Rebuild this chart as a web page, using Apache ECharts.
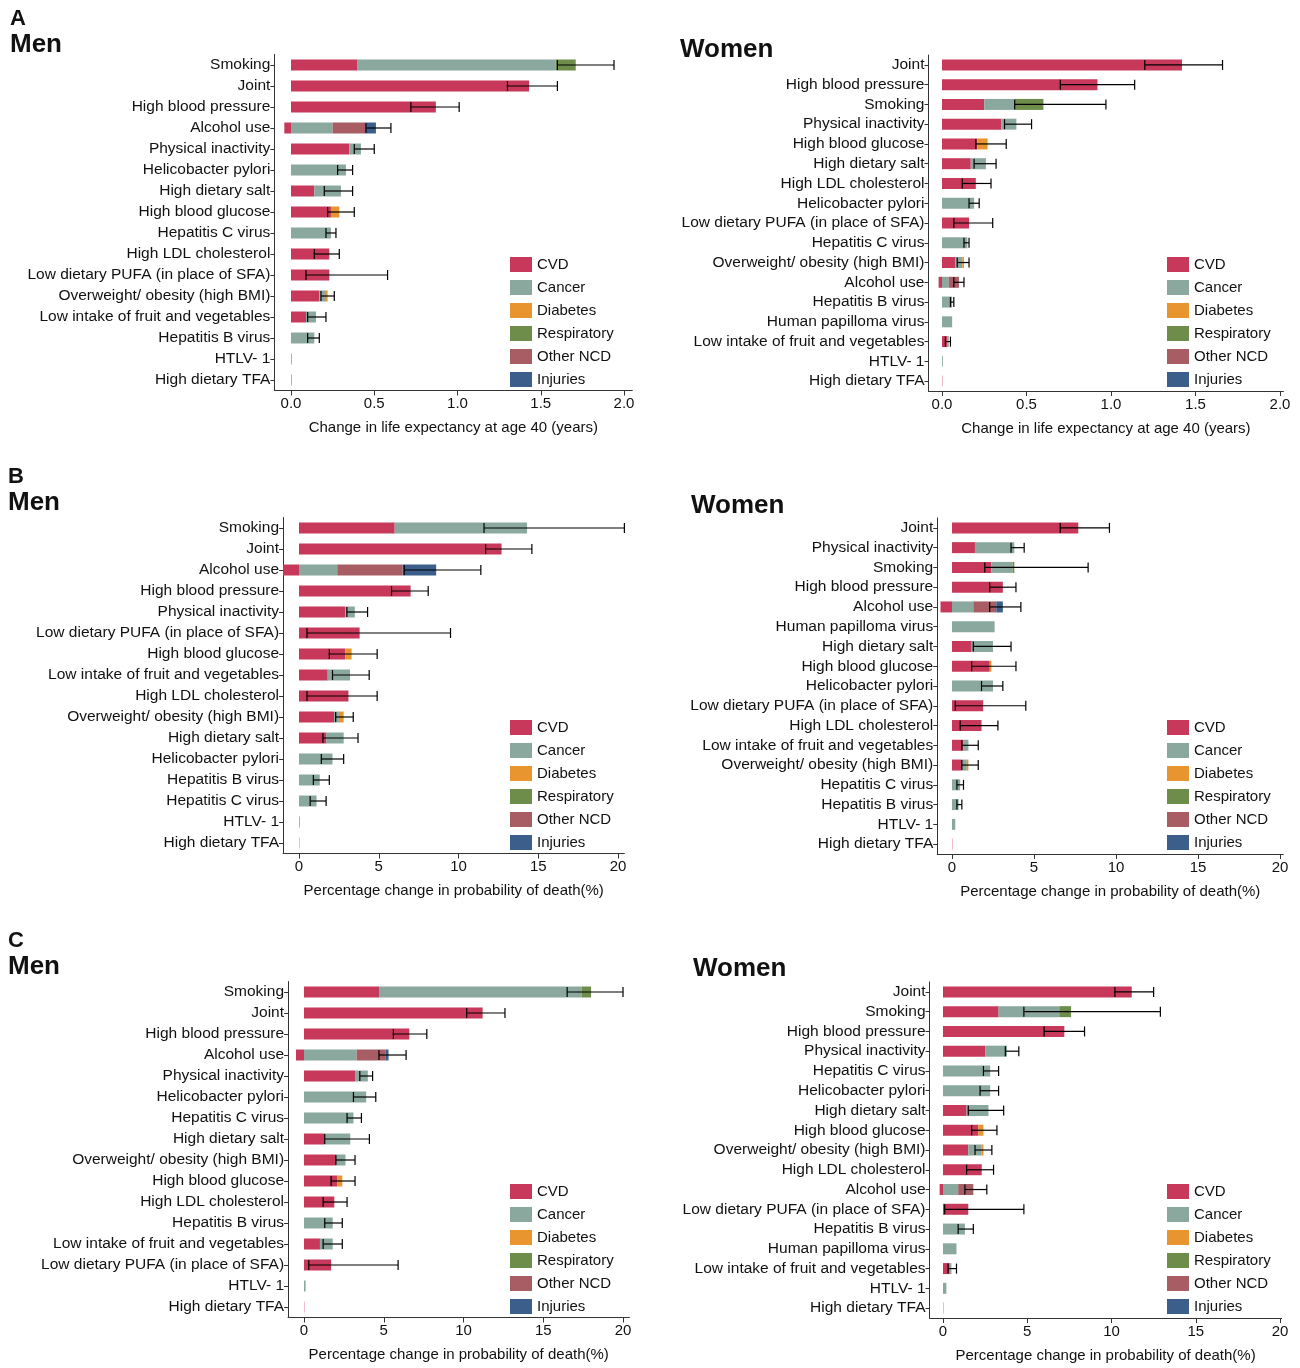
<!DOCTYPE html>
<html>
<head>
<meta charset="UTF-8">
<title>Risk factors</title>
<script src="https://cdn.jsdelivr.net/npm/echarts@6/dist/echarts.min.js"></script>
<style>
  body { margin: 0; background: #fff; }
  #main { width: 1300px; height: 1368px; }
</style>
</head>
<body>
<div id="main"></div>
<script>
// ---- data ----
var causes = ['CVD', 'Cancer', 'Diabetes', 'Respiratory', 'Other NCD', 'Injuries'];
var colors = ['#c8385a', '#8aa89e', '#e8952f', '#6e8c4a', '#a85c63', '#3b5f8a'];

// columns: cvd, cancer, diabetes, respiratory, other NCD, injuries, errLo, errHi
var aMenCats = ['Smoking','Joint','High blood pressure','Alcohol use','Physical inactivity','Helicobacter pylori','High dietary salt','High blood glucose','Hepatitis C virus','High LDL cholesterol','Low dietary PUFA (in place of SFA)','Overweight/ obesity (high BMI)','Low intake of fruit and vegetables','Hepatitis B virus','HTLV- 1','High dietary TFA'];
var aMenVals = [
  [0.40,1.19,0,0.12,0,0, 1.60,1.94],
  [1.43,0,0,0,0,0, 1.30,1.60],
  [0.87,0,0,0,0,0, 0.72,1.01],
  [-0.04,0.25,0,0,0.20,0.06, 0.45,0.60],
  [0.35,0.07,0,0,0,0, 0.38,0.50],
  [0,0.33,0,0,0,0, 0.28,0.37],
  [0.14,0.16,0,0,0,0, 0.20,0.37],
  [0.24,0,0.05,0,0,0, 0.22,0.38],
  [0,0.24,0,0,0,0, 0.21,0.27],
  [0.23,0,0,0,0,0, 0.14,0.29],
  [0.23,0,0,0,0,0, 0.09,0.58],
  [0.17,0.04,0.01,0,0,0, 0.18,0.26],
  [0.09,0.06,0,0,0,0, 0.10,0.21],
  [0,0.14,0,0,0,0, 0.10,0.17],
  [0,0.005,0,0,0,0, null,null],
  [0.003,0,0,0,0,0, null,null]
];
var aWomenCats = ['Joint','High blood pressure','Smoking','Physical inactivity','High blood glucose','High dietary salt','High LDL cholesterol','Helicobacter pylori','Low dietary PUFA (in place of SFA)','Hepatitis C virus','Overweight/ obesity (high BMI)','Alcohol use','Hepatitis B virus','Human papilloma virus','Low intake of fruit and vegetables','HTLV- 1','High dietary TFA'];
var aWomenVals = [
  [1.42,0,0,0,0,0, 1.20,1.66],
  [0.92,0,0,0,0,0, 0.70,1.14],
  [0.25,0.18,0,0.17,0,0, 0.43,0.97],
  [0.35,0.09,0,0,0,0, 0.37,0.53],
  [0.21,0,0.06,0,0,0, 0.20,0.38],
  [0.17,0.09,0,0,0,0, 0.19,0.32],
  [0.20,0,0,0,0,0, 0.12,0.29],
  [0,0.19,0,0,0,0, 0.16,0.22],
  [0.16,0,0,0,0,0, 0.07,0.30],
  [0,0.15,0,0,0,0, 0.13,0.16],
  [0.08,0.04,0.01,0,0,0, 0.09,0.16],
  [-0.02,0.04,0,0,0.06,0, 0.07,0.13],
  [0,0.06,0,0,0,0, 0.05,0.07],
  [0,0.06,0,0,0,0, null,null],
  [0.03,0.01,0,0,0,0, 0.02,0.05],
  [0,0.005,0,0,0,0, null,null],
  [0.002,0,0,0,0,0, null,null]
];
var bMenCats = ['Smoking','Joint','Alcohol use','High blood pressure','Physical inactivity','Low dietary PUFA (in place of SFA)','High blood glucose','Low intake of fruit and vegetables','High LDL cholesterol','Overweight/ obesity (high BMI)','High dietary salt','Helicobacter pylori','Hepatitis B virus','Hepatitis C virus','HTLV- 1','High dietary TFA'];
var bMenVals = [
  [6.0,8.3,0,0,0,0, 11.6,20.4],
  [12.7,0,0,0,0,0, 11.7,14.6],
  [-1.0,2.4,0,0,4.1,2.1, 6.6,11.4],
  [7.0,0,0,0,0,0, 5.8,8.1],
  [2.9,0.6,0,0,0,0, 3.0,4.3],
  [3.8,0,0,0,0,0, 0.5,9.5],
  [2.9,0,0.4,0,0,0, 1.9,4.9],
  [1.8,1.4,0,0,0,0, 2.1,4.4],
  [3.1,0,0,0,0,0, 0.5,4.9],
  [2.2,0.3,0.3,0,0,0, 2.3,3.4],
  [1.7,1.1,0,0,0,0, 1.5,3.7],
  [0,2.1,0,0,0,0, 1.4,2.8],
  [0,1.3,0,0,0,0, 0.9,1.9],
  [0,1.1,0,0,0,0, 0.7,1.7],
  [0,0.05,0,0,0,0, null,null],
  [0.02,0,0,0,0,0, null,null]
];
var bWomenCats = ['Joint','Physical inactivity','Smoking','High blood pressure','Alcohol use','Human papilloma virus','High dietary salt','High blood glucose','Helicobacter pylori','Low dietary PUFA (in place of SFA)','High LDL cholesterol','Low intake of fruit and vegetables','Overweight/ obesity (high BMI)','Hepatitis C virus','Hepatitis B virus','HTLV- 1','High dietary TFA'];
var bWomenVals = [
  [7.7,0,0,0,0,0, 6.6,9.6],
  [1.4,2.4,0,0,0,0, 3.6,4.4],
  [2.4,1.3,0,0.1,0,0, 2.0,8.3],
  [3.1,0,0,0,0,0, 2.3,3.9],
  [-0.7,1.3,0,0,1.4,0.4, 2.3,4.2],
  [0,2.6,0,0,0,0, null,null],
  [1.2,1.3,0,0,0,0, 1.3,3.6],
  [2.3,0,0.1,0,0,0, 1.2,3.9],
  [0,2.5,0,0,0,0, 1.8,3.1],
  [1.9,0,0,0,0,0, 0.2,4.5],
  [1.8,0,0,0,0,0, 0.5,2.8],
  [0.7,0.3,0,0,0,0, 0.6,1.6],
  [0.6,0.3,0.1,0,0,0, 0.6,1.6],
  [0,0.5,0,0,0,0, 0.3,0.7],
  [0,0.4,0,0,0,0, 0.3,0.6],
  [0,0.2,0,0,0,0, null,null],
  [0.02,0,0,0,0,0, null,null]
];
var cMenCats = ['Smoking','Joint','High blood pressure','Alcohol use','Physical inactivity','Helicobacter pylori','Hepatitis C virus','High dietary salt','Overweight/ obesity (high BMI)','High blood glucose','High LDL cholesterol','Hepatitis B virus','Low intake of fruit and vegetables','Low dietary PUFA (in place of SFA)','HTLV- 1','High dietary TFA'];
var cMenVals = [
  [4.7,12.7,0,0.6,0,0, 16.5,20.0],
  [11.2,0,0,0,0,0, 10.2,12.6],
  [6.6,0,0,0,0,0, 5.6,7.7],
  [-0.5,3.3,0,0,1.8,0.2, 4.7,6.4],
  [3.2,0.8,0,0,0,0, 3.5,4.3],
  [0,3.9,0,0,0,0, 3.1,4.5],
  [0,3.1,0,0,0,0, 2.7,3.6],
  [1.3,1.6,0,0,0,0, 1.3,4.1],
  [2.0,0.6,0,0,0,0, 2.0,3.2],
  [2.1,0,0.3,0,0,0, 1.7,3.2],
  [1.9,0,0,0,0,0, 1.2,2.7],
  [0,1.8,0,0,0,0, 1.3,2.4],
  [1.0,0.8,0,0,0,0, 1.2,2.4],
  [1.7,0,0,0,0,0, 0.3,5.9],
  [0,0.1,0,0,0,0, null,null],
  [0.02,0,0,0,0,0, null,null]
];
var cWomenCats = ['Joint','Smoking','High blood pressure','Physical inactivity','Hepatitis C virus','Helicobacter pylori','High dietary salt','High blood glucose','Overweight/ obesity (high BMI)','High LDL cholesterol','Alcohol use','Low dietary PUFA (in place of SFA)','Hepatitis B virus','Human papilloma virus','Low intake of fruit and vegetables','HTLV- 1','High dietary TFA'];
var cWomenVals = [
  [11.2,0,0,0,0,0, 10.2,12.5],
  [3.3,3.6,0,0.7,0,0, 4.8,12.9],
  [7.2,0,0,0,0,0, 6.0,8.4],
  [2.5,1.3,0,0,0,0, 3.7,4.5],
  [0,2.8,0,0,0,0, 2.4,3.3],
  [0,2.8,0,0,0,0, 2.2,3.3],
  [1.4,1.3,0,0,0,0, 1.5,3.6],
  [2.1,0,0.3,0,0,0, 1.7,3.2],
  [1.5,0.8,0.1,0,0,0, 1.9,2.9],
  [2.3,0,0,0,0,0, 1.4,3.0],
  [-0.2,0.9,0,0,0.9,0, 1.3,2.6],
  [1.5,0,0,0,0,0, 0.1,4.8],
  [0,1.3,0,0,0,0, 0.9,1.8],
  [0,0.8,0,0,0,0, null,null],
  [0.4,0.1,0,0,0,0, 0.3,0.8],
  [0,0.2,0,0,0,0, null,null],
  [0.02,0,0,0,0,0, null,null]
];

var leTicks = [0, 0.5, 1, 1.5, 2];
var pcTicks = [0, 5, 10, 15, 20];
var leName = 'Change in life expectancy at age 40 (years)';
var pcName = 'Percentage change in probability of death(%)';

// ---- layout ----
var panels = [
  {cats: aMenCats, vals: aMenVals, min: -0.1, max: 2.05, scale: 166.5, zero: 291, top: 54.5, ticks: leTicks, name: leName, fmt: function (v) { return v.toFixed(1); }, leg: [505, 252]},
  {cats: aWomenCats, vals: aWomenVals, min: -0.08, max: 2.02, scale: 169, zero: 942, top: 55, ticks: leTicks, name: leName, fmt: function (v) { return v.toFixed(1); }, leg: [1162, 252]},
  {cats: bMenCats, vals: bMenVals, min: -1, max: 20.4, scale: 15.95, zero: 299, top: 517.5, ticks: pcTicks, name: pcName, fmt: String, leg: [505, 715]},
  {cats: bWomenCats, vals: bWomenVals, min: -0.9, max: 20.2, scale: 16.4, zero: 952, top: 518, ticks: pcTicks, name: pcName, fmt: String, leg: [1162, 715]},
  {cats: cMenCats, vals: cMenVals, min: -1, max: 20.4, scale: 15.95, zero: 304, top: 981.5, ticks: pcTicks, name: pcName, fmt: String, leg: [505, 1179]},
  {cats: cWomenCats, vals: cWomenVals, min: -0.8, max: 20.1, scale: 16.85, zero: 943, top: 982, ticks: pcTicks, name: pcName, fmt: String, leg: [1162, 1179]}
];

var font = 'Liberation Sans, Arial, sans-serif';
var grids = [], xAxes = [], yAxes = [], series = [], legends = [];

panels.forEach(function (p, k) {
  var left = p.zero + p.min * p.scale;
  grids.push({left: left, top: p.top, width: (p.max - p.min) * p.scale, height: 336});
  xAxes.push({
    type: 'value', gridIndex: k, min: p.min, max: p.max,
    name: p.name, nameLocation: 'middle', nameGap: 30,
    nameTextStyle: {fontSize: 15, color: '#111', fontFamily: font},
    axisLine: {show: true, lineStyle: {color: '#333'}},
    axisTick: {show: true, length: 5, lineStyle: {color: '#333'}, customValues: p.ticks},
    axisLabel: {fontSize: 15, color: '#111', fontFamily: font, customValues: p.ticks, formatter: p.fmt, margin: 6},
    splitLine: {show: false}
  });
  yAxes.push({
    type: 'category', gridIndex: k, data: p.cats, inverse: true,
    axisLine: {show: true, onZero: false, lineStyle: {color: '#333'}},
    axisTick: {show: true, length: 4, alignWithLabel: true, interval: 0, lineStyle: {color: '#333'}},
    axisLabel: {fontSize: 15.5, color: '#111', fontFamily: font, margin: 4, interval: 0, hideOverlap: false}
  });
  causes.forEach(function (c, j) {
    series.push({
      name: c, type: 'bar', stack: 'p' + k, xAxisIndex: k, yAxisIndex: k,
      barWidth: 11, itemStyle: {color: colors[j]},
      data: p.vals.map(function (r) { return r[j]; })
    });
  });
  series.push({
    type: 'custom', xAxisIndex: k, yAxisIndex: k, z: 10,
    encode: {x: [1, 2], y: 0},
    data: p.vals.map(function (r, i) { return [i, r[6], r[7]]; }),
    renderItem: function (params, api) {
      var lo = api.value(1), hi = api.value(2);
      if (lo == null || isNaN(lo)) return null;
      var a = api.coord([lo, api.value(0)]), b = api.coord([hi, api.value(0)]);
      var st = {stroke: '#000', lineWidth: 1.2};
      return {type: 'group', children: [
        {type: 'line', shape: {x1: a[0], y1: a[1], x2: b[0], y2: b[1]}, style: st},
        {type: 'line', shape: {x1: a[0], y1: a[1] - 5, x2: a[0], y2: a[1] + 5}, style: st},
        {type: 'line', shape: {x1: b[0], y1: b[1] - 5, x2: b[0], y2: b[1] + 5}, style: st}
      ]};
    }
  });
  legends.push({
    left: p.leg[0], top: p.leg[1], orient: 'vertical', data: causes,
    itemWidth: 22, itemHeight: 15, itemGap: 8, icon: 'rect',
    textStyle: {fontSize: 15, color: '#111', fontFamily: font}
  });
});

function txt(x, y, s, size) {
  return {type: 'text', left: x, top: y, style: {text: s, fontSize: size, fontWeight: 'bold', fontFamily: font, fill: '#111'}};
}

var chart = echarts.init(document.getElementById('main'));
chart.setOption({
  backgroundColor: '#fff',
  animation: false,
  grid: grids, xAxis: xAxes, yAxis: yAxes, legend: legends, series: series,
  graphic: [
    txt(10, 8, 'A', 22), txt(10, 32, 'Men', 26), txt(680, 37, 'Women', 26),
    txt(8, 466, 'B', 22), txt(8, 490, 'Men', 26), txt(691, 493, 'Women', 26),
    txt(8, 930, 'C', 22), txt(8, 954, 'Men', 26), txt(693, 956, 'Women', 26)
  ]
});
</script>
</body>
</html>
